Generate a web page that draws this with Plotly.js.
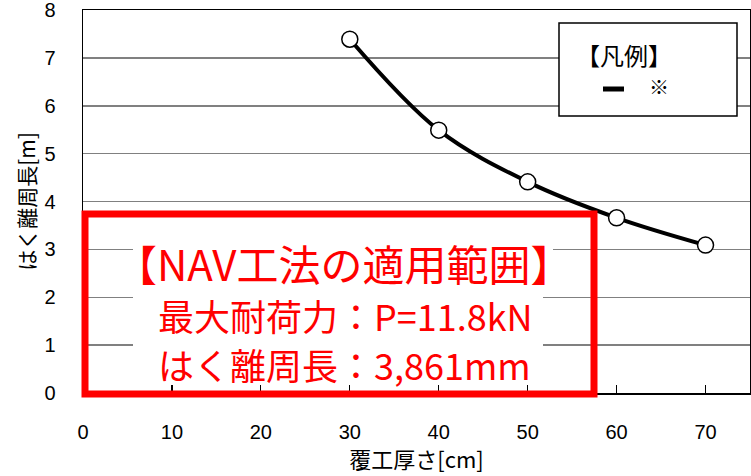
<!DOCTYPE html>
<html>
<head>
<meta charset="utf-8">
<script src="https://cdn.plot.ly/plotly-3.0.1.min.js"></script>
<style>html,body{margin:0;padding:0;background:#fff;}#chart{width:751px;height:476px;}</style>
</head>
<body>
<div id="chart"></div>
<script>
// Data
var thickness = [30, 40, 50, 60, 70];          // 覆工厚さ [cm]
var perimeter = [7.39, 5.49, 4.41, 3.66, 3.09]; // はく離周長 [m]
var xTicks = [0, 10, 20, 30, 40, 50, 60, 70];
var yTicks = [0, 1, 2, 3, 4, 5, 6, 7, 8];
var xTitle = '覆工厚さ[cm]';
var yTitle = 'はく離周長[m]';
var boxTitle = '【NAV工法の適用範囲】';
var boxLine1 = '最大耐荷力：P=11.8kN';
var boxLine2 = 'はく離周長：3,861mm';
var legendTitle = '【凡例】';
var legendMark = '※';

var W = 751, H = 476, ML = 83, MR = 1, MT = 10, MB = 83;
var PW = W - ML - MR, PH = H - MT - MB;
function px(x) { return (x - ML) / PW; }
function py(y) { return (MT + PH - y) / PH; }

var cjk = '"Noto Sans CJK JP", "Noto Sans", sans-serif';
var num = '"Liberation Sans", Arial, sans-serif';

var trace = {
  x: thickness, y: perimeter, type: 'scatter', mode: 'lines+markers',
  line: {color: '#000', width: 4, shape: 'spline', smoothing: 1},
  marker: {size: 16, color: '#fff', line: {color: '#000', width: 1.5}},
  hoverinfo: 'skip', showlegend: false
};

var layout = {
  width: W, height: H,
  margin: {l: ML, r: MR, t: MT, b: MB},
  paper_bgcolor: '#fff', plot_bgcolor: '#fff',
  showlegend: false,
  xaxis: {
    range: [0, 75], tickvals: xTicks, ticktext: xTicks.map(String),
    ticks: 'inside', ticklen: 8, tickwidth: 1.2, tickcolor: '#000',
    showgrid: false, zeroline: false,
    showline: true, linecolor: '#000', linewidth: 1.5, mirror: true,
    tickfont: {family: num, size: 20, color: '#000'},
    ticklabelstandoff: 20, ticklabeloverflow: 'allow',
    title: {text: xTitle, font: {family: cjk, size: 22, color: '#000'}, standoff: 3},
    fixedrange: true
  },
  yaxis: {
    range: [0, 8], tickvals: yTicks, ticktext: yTicks.map(String),
    ticks: '', showgrid: true, gridcolor: '#808080', gridwidth: 1.5,
    zeroline: false,
    showline: true, linecolor: '#000', linewidth: 1.5, mirror: true,
    tickfont: {family: num, size: 20, color: '#000'},
    ticklabelstandoff: 22, ticklabeloverflow: 'allow',
    title: {text: yTitle, font: {family: cjk, size: 21, color: '#000'}, standoff: 3},
    fixedrange: true
  },
  shapes: [
    // white backing behind the red text
    {type: 'rect', xref: 'paper', yref: 'paper', layer: 'above',
     x0: px(133), x1: px(553), y0: py(218), y1: py(284),
     line: {width: 0}, fillcolor: '#fff'},
    {type: 'rect', xref: 'paper', yref: 'paper', layer: 'above',
     x0: px(133), x1: px(543), y0: py(284), y1: py(384),
     line: {width: 0}, fillcolor: '#fff'},
    // red frame
    {type: 'rect', xref: 'paper', yref: 'paper', layer: 'above',
     x0: px(85), x1: px(594), y0: py(214), y1: py(394),
     line: {color: '#ff0000', width: 7}, fillcolor: 'rgba(0,0,0,0)'},
    // legend box
    {type: 'rect', xref: 'paper', yref: 'paper', layer: 'above',
     x0: px(559), x1: px(737), y0: py(23), y1: py(116),
     line: {color: '#000', width: 1.5}, fillcolor: '#fff'},
    {type: 'line', xref: 'paper', yref: 'paper', layer: 'above',
     x0: px(603), x1: px(624), y0: py(89), y1: py(89),
     line: {color: '#000', width: 5}}
  ],
  annotations: [
    {xref: 'paper', yref: 'paper', x: px(113), y: py(262), xanchor: 'left', yanchor: 'middle',
     text: boxTitle, showarrow: false, font: {family: cjk, size: 42, color: '#ff0000'}},
    {xref: 'paper', yref: 'paper', x: px(156), y: py(315), xanchor: 'left', yanchor: 'middle',
     text: boxLine1, showarrow: false, font: {family: cjk, size: 36, color: '#ff0000'}},
    {xref: 'paper', yref: 'paper', x: px(156), y: py(364), xanchor: 'left', yanchor: 'middle',
     text: boxLine2, showarrow: false, font: {family: cjk, size: 36, color: '#ff0000'}},
    {xref: 'paper', yref: 'paper', x: px(624), y: py(54), xanchor: 'center', yanchor: 'middle',
     text: legendTitle, showarrow: false, font: {family: cjk, size: 24, color: '#000'}},
    {xref: 'paper', yref: 'paper', x: px(659), y: py(86), xanchor: 'center', yanchor: 'middle',
     text: legendMark, showarrow: false, font: {family: cjk, size: 20, color: '#000'}}
  ]
};

Plotly.newPlot('chart', [trace], layout, {displayModeBar: false, staticPlot: true});
</script>
</body>
</html>
